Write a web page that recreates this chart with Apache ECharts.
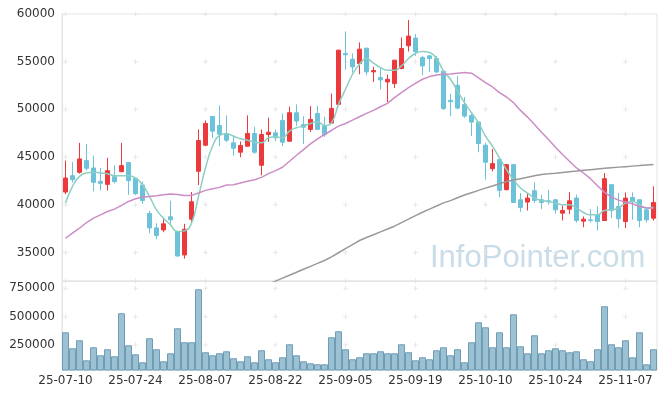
<!DOCTYPE html>
<html>
<head>
<meta charset="utf-8">
<script src="https://cdn.jsdelivr.net/npm/echarts@6/dist/echarts.min.js"></script>
<style>
	html, body { margin: 0; padding: 0; background: #fff; }
	#main { width: 665px; height: 399px; }
</style>
</head>
<body>
<div id="main"></div>
<script>
const dates = ['25-07-10','25-07-11','25-07-14','25-07-15','25-07-16','25-07-17','25-07-18','25-07-21','25-07-22','25-07-23',
	'25-07-24','25-07-25','25-07-28','25-07-29','25-07-30','25-07-31','25-08-01','25-08-04','25-08-05','25-08-06',
	'25-08-07','25-08-08','25-08-11','25-08-12','25-08-13','25-08-14','25-08-18','25-08-19','25-08-20','25-08-21',
	'25-08-22','25-08-25','25-08-26','25-08-27','25-08-28','25-08-29','25-09-01','25-09-02','25-09-03','25-09-04',
	'25-09-05','25-09-08','25-09-09','25-09-10','25-09-11','25-09-12','25-09-15','25-09-16','25-09-17','25-09-18',
	'25-09-19','25-09-22','25-09-23','25-09-24','25-09-25','25-09-26','25-09-29','25-09-30','25-10-01','25-10-02',
	'25-10-10','25-10-13','25-10-14','25-10-15','25-10-16','25-10-17','25-10-20','25-10-21','25-10-22','25-10-23',
	'25-10-24','25-10-27','25-10-28','25-10-29','25-10-30','25-10-31','25-11-03','25-11-04','25-11-05','25-11-06',
	'25-11-07','25-11-10','25-11-11','25-11-12','25-11-13']

const opens = [41327,43047,43398,44626,43854,42450,42134,42941,43468,44416,
	42766,42064,39080,37571,37360,38730,37150,34728,38484,43503,
	46241,49259,48312,47469,46487,45504,46135,47469,44135,47364,
	47539,48838,46662,49646,48417,47890,49575,48242,48557,50523,
	55858,55262,54805,56420,53928,53331,52875,52699,54279,56665,
	57473,55437,55613,55332,53998,50944,52524,50523,49365,48663,
	46241,43784,44732,41573,44205,40520,40274,41467,40520,40414,
	40520,39115,39537,40695,38274,38414,38940,38344,42099,39818,
	38238,40765,40520,39466,38589]
const closes = [42801,42625,44802,43819,42345,42239,43573,42415,44100,42520,
	41151,40449,37571,36764,37992,38414,34622,37431,40309,46732,
	48522,47715,47399,46767,45925,46206,47469,45504,47364,47610,
	47013,46557,49646,48768,48136,48943,47890,47329,50102,56209,
	55718,54454,56314,53928,54068,53085,53156,55156,56385,57683,
	56069,54559,55332,53928,50067,50804,50137,49295,48663,46416,
	44450,44310,41502,44205,40238,39713,40695,40449,40238,40309,
	39466,39396,40414,38344,38484,38344,38238,42731,39396,38519,
	40695,40344,38344,38414,40238]
const lows = [41116,42345,43257,43608,41397,41502,41502,42239,43400,41046,
	41000,40098,37010,36377,37115,37992,34553,34342,38133,42064,
	46135,46978,46135,46557,45153,44977,46100,45328,43082,46592,
	46662,46135,46600,48242,46381,47610,47850,47118,48500,50450,
	54138,53858,53682,53577,52875,52103,50769,52243,54209,56069,
	55613,53577,53928,53800,49950,49295,49997,49119,47189,45504,
	42625,43503,40800,41500,40169,39256,39396,40169,39537,39993,
	39045,38344,39045,38133,37641,38133,37290,38300,38589,37536,
	37536,38414,37641,38133,38344]
const highs = [44626,44486,46487,46381,45153,43854,44907,44135,46487,44486,
	42800,42450,39361,38063,38484,40414,37150,37992,41327,47890,
	48838,49300,50418,49365,47259,46627,49365,48171,47890,49119,
	47890,49575,50277,50523,49295,50348,50348,49224,51646,56250,
	58175,55858,57017,56450,54454,54384,53647,55200,57543,59368,
	57894,55613,55650,55613,54100,51646,53507,51295,49646,48700,
	46487,45855,44800,44250,44250,41221,41221,42345,41046,41573,
	40550,39923,41327,41046,38765,39537,39818,43328,42150,41221,
	41292,41292,40550,39642,41923]

const ma5 = [40169,41923,42976,43328,43398,43328,43257,43047,43047,43047,
	42801,42099,40871,39466,38589,37887,37185,37255,38063,40871,
	43854,46135,47259,47434,47188,46908,46767,46557,46487,47013,
	47118,47013,47715,48066,48242,48522,48698,48312,48592,50523,
	52103,53682,54735,55332,54840,54384,54103,54103,54559,55332,
	55858,56069,55964,55332,54033,53156,51927,50699,49646,48592,
	47188,46135,44907,43679,42625,41748,41221,40695,40449,40344,
	40169,39993,39993,39642,39186,38940,38940,39396,39466,39642,
	40169,40344,39993,39642,39747]
const ma20 = [36483,37010,37536,38133,38589,38940,39291,39537,39923,40344,
	40625,40800,40871,40941,41046,41116,41081,40976,40976,41221,
	41502,41678,41818,42064,42099,42275,42450,42625,42871,43257,
	43573,43924,44556,45188,45785,46381,46908,47364,47785,48242,
	48522,48873,49224,49575,49891,50277,50627,51225,51751,52278,
	52734,53156,53437,53612,53682,53717,53787,53858,53787,53296,
	52805,52348,51751,51295,50699,49891,49189,48417,47610,46838,
	46030,45258,44556,43854,43328,42731,41993,41292,40800,40484,
	40274,40098,39818,39677,39607]
const ma60 = [null,null,null,null,null,null,null,null,null,null,
	null,null,null,null,null,null,null,null,null,null,
	null,null,null,null,null,null,null,null,null,31690,
	31990,32299,32608,32917,33226,33535,33844,34153,34536,34964,
	35392,35821,36249,36561,36856,37151,37446,37748,38116,38485,
	38853,39211,39538,39864,40194,40432,40737,41011,41257,41502,
	41737,41966,42194,42429,42583,42731,42878,43026,43173,43237,
	43310,43384,43458,43531,43605,43679,43753,43826,43886,43942,
	43994,44047,44100,44156,44209]

const volumes = [362000,220900,291500,114800,229700,159000,212000,150200,530000,247400,
	167800,97200,309200,212000,106000,176700,397500,273900,273900,742000,
	185500,159000,176700,194300,132500,106000,150200,97200,203200,123700,
	97200,141300,256200,159000,106000,88300,79500,79500,318000,371000,
	212000,123700,141300,176700,176700,194300,176700,176700,256200,185500,
	114800,141300,123700,203200,229700,159000,212000,97200,273900,450500,
	406400,229700,362000,229700,521200,238500,176700,335700,176700,203200,
	220900,203200,185500,194300,123700,106000,212000,591900,256200,229700,
	291500,141300,362000,79500,212000]

// grid marks (little crosses)
const markCols = [0, 10, 20, 30, 40, 50, 60, 70, 80]
const priceRows = [32000, 35000, 40000, 45000, 50000, 55000, 60000]
const volRows = [250000, 500000, 750000]

let candleData = []
for (let i = 0; i < dates.length; i++) {
	candleData.push([opens[i], closes[i], lows[i], highs[i]])
}
let priceMarks = [], volMarks = []
markCols.forEach(c => {
	priceRows.forEach(r => priceMarks.push([c, r]))
	volRows.forEach(r => volMarks.push([c, r]))
})

const lineColor = '#e4e4e4'
const labelStyle = { color: '#333', fontSize: 12, fontFamily: 'DejaVu Sans' }
const plus = 'path://M2,0H3V5H2Z M0,2H5V3H0Z'
const plain = v => String(v)

let chart = echarts.init(document.getElementById('main'))
chart.setOption({
	animation: false,
	grid: [
		{ left: 62, top: 14, width: 595, height: 267, show: true, borderColor: lineColor, borderWidth: 1 },
		{ left: 62, top: 281, width: 595, height: 89, show: true, borderColor: lineColor, borderWidth: 1 }
	],
	graphic: [{
		type: 'text', x: 430, y: 258, z: 0,
		style: { text: 'InfoPointer.com', font: '31px "Liberation Sans"', fill: '#c9dce8', verticalAlign: 'middle' }
	}],
	xAxis: [
		{
			type: 'category', gridIndex: 0, data: dates, boundaryGap: true,
			axisLine: { lineStyle: { color: lineColor } }, axisTick: { show: false },
			axisLabel: { show: false }, splitLine: { show: false }
		},
		{
			type: 'category', gridIndex: 1, data: dates, boundaryGap: true,
			axisLine: { lineStyle: { color: lineColor } }, axisTick: { show: false },
			axisLabel: Object.assign({ interval: 9, margin: 5 }, labelStyle), splitLine: { show: false }
		}
	],
	yAxis: [
		{
			gridIndex: 0, min: 32000, max: 60000, splitNumber: 5,
			axisLine: { show: true, lineStyle: { color: lineColor } }, axisTick: { show: false },
			axisLabel: Object.assign({ showMinLabel: false, margin: 7, formatter: plain }, labelStyle), splitLine: { show: false }
		},
		{
			gridIndex: 1, min: 29000, max: 815000,
			axisLine: { show: true, lineStyle: { color: lineColor } }, axisTick: { show: false },
			axisLabel: Object.assign({ customValues: volRows, margin: 7, formatter: plain }, labelStyle), splitLine: { show: false }
		}
	],
	series: [
		{
			type: 'scatter', xAxisIndex: 0, yAxisIndex: 0, data: priceMarks, symbol: plus, symbolSize: 5,
			itemStyle: { color: '#e2e2e2' }, silent: true, z: 1
		},
		{
			type: 'scatter', xAxisIndex: 1, yAxisIndex: 1, data: volMarks, symbol: plus, symbolSize: 5,
			itemStyle: { color: '#e2e2e2' }, silent: true, z: 1
		},
		{
			name: 'candle', type: 'candlestick', xAxisIndex: 0, yAxisIndex: 0, data: candleData, barWidth: 5,
			itemStyle: { color: '#ec3a3c', color0: '#6cc3d9', borderColor: '#ec3a3c', borderColor0: '#6cc3d9', borderWidth: 1 },
			z: 3
		},
		{
			name: 'MA5', type: 'line', xAxisIndex: 0, yAxisIndex: 0, data: ma5, smooth: true, symbol: 'none',
			lineStyle: { color: '#8ccfc2', width: 1.5 }, z: 4
		},
		{
			name: 'MA20', type: 'line', xAxisIndex: 0, yAxisIndex: 0, data: ma20, symbol: 'none',
			lineStyle: { color: '#cc8dc6', width: 1.5 }, z: 4
		},
		{
			name: 'MA60', type: 'line', xAxisIndex: 0, yAxisIndex: 0, data: ma60, symbol: 'none',
			lineStyle: { color: '#999999', width: 1.5 }, z: 4
		},
		{
			name: 'volume', type: 'bar', xAxisIndex: 1, yAxisIndex: 1, data: volumes, barCategoryGap: '0%',
			itemStyle: { color: '#9cc1d3', borderColor: '#6f9db6', borderWidth: 1 }, z: 3
		}
	]
})
</script>
</body>
</html>
